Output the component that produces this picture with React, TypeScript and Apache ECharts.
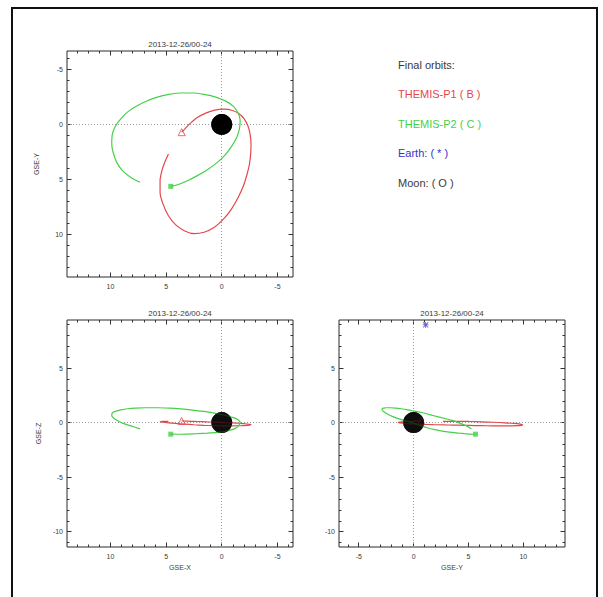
import React, { useEffect, useRef } from "react";
import * as echarts from "echarts";

// ---------- data ----------
const TITLE = "2013-12-26/00-24";
const majorTicks = [-10, -5, 0, 5, 10];
const majorLabels = ["-10", "-5", "0", "5", "10"];

// THEMIS-P1 ( B ) final orbit, GSE [Re]
const p1X = [3.6, 3.23, 2.78, 2.19, 1.44, 0.63, -0.21, -0.96, -1.56, -2.01, -2.34, -2.54, -2.63, -2.6, -2.49, -2.28, -1.95, -1.47, -0.87, -0.15, 0.69, 1.59, 2.49, 3.32, 4.13, 4.79, 5.27, 5.54, 5.54, 5.33, 5.03, 4.79];
const p1Y = [0.7, 0.3, -0.15, -0.64, -1.04, -1.31, -1.4, -1.28, -0.98, -0.52, 0.09, 0.85, 1.77, 2.68, 3.6, 4.51, 5.58, 6.65, 7.71, 8.63, 9.39, 9.82, 9.94, 9.7, 9.15, 8.32, 7.26, 6.19, 5.12, 4.05, 3.23, 2.68];
const p1Z = [0.15, 0.14, 0.12, 0.1, 0.07, 0.04, 0.0, -0.03, -0.06, -0.1, -0.13, -0.16, -0.19, -0.21, -0.23, -0.25, -0.27, -0.29, -0.3, -0.3, -0.28, -0.25, -0.2, -0.14, -0.08, -0.02, 0.03, 0.07, 0.1, 0.12, 0.12, 0.12];

// THEMIS-P2 ( C ) final orbit, GSE [Re]
const p2X = [7.34, 8.17, 8.92, 9.43, 9.76, 9.88, 9.82, 9.52, 9.07, 8.47, 7.72, 6.83, 5.78, 4.73, 3.68, 2.63, 1.59, 0.54, -0.36, -1.05, -1.47, -1.65, -1.59, -1.35, -0.93, -0.33, 0.39, 1.29, 2.19, 3.08, 3.98, 4.58];
const p2Y = [5.27, 4.82, 4.21, 3.45, 2.53, 1.77, 0.85, 0.09, -0.52, -1.13, -1.65, -2.1, -2.5, -2.74, -2.87, -2.87, -2.74, -2.5, -2.13, -1.65, -1.04, -0.37, 0.4, 1.16, 1.92, 2.74, 3.45, 4.12, 4.66, 5.12, 5.49, 5.64];
const p2Z = [-0.58, -0.3, -0.05, 0.22, 0.45, 0.65, 0.9, 1.05, 1.17, 1.27, 1.33, 1.36, 1.36, 1.32, 1.25, 1.15, 1.02, 0.85, 0.65, 0.45, 0.25, 0.05, -0.2, -0.45, -0.65, -0.8, -0.9, -0.97, -1.02, -1.05, -1.07, -1.06];

// Earth marker (*) seen in the Y-Z panel
const earthY = [1.1];
const earthZ = [8.95];

// body at origin
const originH = [0];
const originV = [0];

const legendTexts = ["Final orbits:", "THEMIS-P1 ( B )", "THEMIS-P2 ( C )", "Earth: ( * )", "Moon: ( O )"];

// ---------- styles ----------
const RED = "#e4474b";
const GREEN = "#46d048";
const BLUE = "#3434c8";
const INK = "#3a3a3a";
const FONT = "Liberation Sans, Arial, sans-serif";
const legendColors = [INK, RED, GREEN, BLUE, INK];

type Dim = "x" | "y" | "z";
const P1: Record<Dim, number[]> = { x: p1X, y: p1Y, z: p1Z };
const P2: Record<Dim, number[]> = { x: p2X, y: p2Y, z: p2Z };

const panels = [
  {
    grid: { left: 67, top: 51, width: 226, height: 226 },
    hAx: { min: -6.4, max: 13.9, inverse: true, name: "", gap: 16 },
    vAx: { min: -6.7, max: 13.9, inverse: true, name: "GSE-Y", gap: 27 },
    h: "x" as Dim,
    v: "y" as Dim,
  },
  {
    grid: { left: 67, top: 320, width: 226, height: 227 },
    hAx: { min: -6.4, max: 13.9, inverse: true, name: "GSE-X", gap: 17 },
    vAx: { min: -11.4, max: 9.4, inverse: false, name: "GSE-Z", gap: 25 },
    h: "x" as Dim,
    v: "z" as Dim,
  },
  {
    grid: { left: 339, top: 320, width: 226, height: 227 },
    hAx: { min: -6.8, max: 13.8, inverse: false, name: "GSE-Y", gap: 17 },
    vAx: { min: -11.4, max: 9.4, inverse: false, name: "", gap: 25 },
    h: "y" as Dim,
    v: "z" as Dim,
  },
];

function majorValues(min: number, max: number) {
  return majorTicks.filter((v) => v > min && v < max);
}
function minorValues(min: number, max: number) {
  const out: number[] = [];
  for (let v = Math.ceil(min); v <= Math.floor(max); v++) if (v % 5 !== 0) out.push(v);
  return out;
}
function labelOf(v: number) {
  const i = majorTicks.indexOf(v);
  return i >= 0 ? majorLabels[i] : String(v);
}

function axisSet(dim: "x" | "y", gi: number, ax: any) {
  const sides = dim === "x" ? ["bottom", "top"] : ["left", "right"];
  const res: any[] = [];
  sides.forEach((pos, si) => {
    [true, false].forEach((isMajor) => {
      const labelled = si === 0 && isMajor;
      res.push({
        type: "value",
        gridIndex: gi,
        position: pos,
        min: ax.min,
        max: ax.max,
        inverse: ax.inverse,
        name: labelled ? ax.name : "",
        nameLocation: "middle",
        nameGap: ax.gap,
        nameRotate: dim === "y" ? 90 : 0,
        nameTextStyle: { fontSize: 7, color: INK, fontFamily: FONT },
        axisLine: { show: false, onZero: false },
        splitLine: { show: false },
        axisTick: {
          show: true,
          inside: true,
          length: isMajor ? 4.5 : 2.5,
          customValues: isMajor ? majorValues(ax.min, ax.max) : minorValues(ax.min, ax.max),
          lineStyle: { color: "#333", width: 1 },
        },
        axisLabel: {
          show: labelled,
          customValues: majorValues(ax.min, ax.max),
          formatter: (v: number) => labelOf(v),
          fontSize: 7,
          color: INK,
          fontFamily: FONT,
          margin: dim === "x" ? 6 : 4,
        },
      });
    });
  });
  return res;
}

const asteriskPath =
  "path://M4.3,0h1.4v10h-1.4z M0,4.3h10v1.4h-10z M1.2,0.2l8.6,8.6l-1,1l-8.6,-8.6z M8.8,0.2l1,1l-8.6,8.6l-1,-1z";

function buildOption() {
  const grids: any[] = [];
  const xAxes: any[] = [];
  const yAxes: any[] = [];
  const series: any[] = [];
  const graphics: any[] = [];

  panels.forEach((p, gi) => {
    grids.push({ ...p.grid, show: true, borderColor: "#2a2a2a", borderWidth: 1, backgroundColor: "transparent" });
    const xi = xAxes.length;
    const yi = yAxes.length;
    xAxes.push(...axisSet("x", gi, p.hAx));
    yAxes.push(...axisSet("y", gi, p.vAx));

    const pair = (o: Record<Dim, number[]>) => o[p.h].map((v, i) => [v, o[p.v][i]]);
    const p1 = pair(P1);
    const p2 = pair(P2);
    const origin = originH.map((v, i) => [v, originV[i]]);

    // opaque body below the orbits
    series.push({
      type: "scatter",
      xAxisIndex: xi,
      yAxisIndex: yi,
      data: origin,
      symbol: "circle",
      symbolSize: 21,
      itemStyle: { color: "#000" },
      z: 1.5,
    });
    series.push({
      type: "line",
      name: "THEMIS-P1",
      xAxisIndex: xi,
      yAxisIndex: yi,
      data: p1,
      smooth: 0.25,
      showSymbol: false,
      lineStyle: { color: RED, width: 1.2 },
      z: 2,
      markLine: {
        silent: true,
        z: 1,
        symbol: ["none", "none"],
        label: { show: false },
        lineStyle: { color: "#9a9a9a", type: [1, 2], width: 1 },
        data: [{ xAxis: 0 }, { yAxis: 0 }],
      },
    });
    series.push({
      type: "line",
      name: "THEMIS-P2",
      xAxisIndex: xi,
      yAxisIndex: yi,
      data: p2,
      smooth: 0.25,
      showSymbol: false,
      lineStyle: { color: GREEN, width: 1.2 },
      z: 2,
    });
    series.push({
      type: "scatter",
      xAxisIndex: xi,
      yAxisIndex: yi,
      data: [p1[0]],
      symbol: "triangle",
      symbolSize: 7,
      itemStyle: { color: "rgba(255,255,255,0)", borderColor: RED, borderWidth: 1 },
      z: 3,
    });
    series.push({
      type: "scatter",
      xAxisIndex: xi,
      yAxisIndex: yi,
      data: [p2[p2.length - 1]],
      symbol: "rect",
      symbolSize: 5,
      itemStyle: { color: GREEN },
      z: 3,
    });
    // translucent body over the orbits (dims the crossing lines)
    series.push({
      type: "scatter",
      xAxisIndex: xi,
      yAxisIndex: yi,
      data: origin,
      symbol: "circle",
      symbolSize: 21,
      itemStyle: { color: "#000", opacity: gi === 0 ? 1 : 0.72 },
      z: 10,
    });
    if (p.h === "y" && p.v === "z") {
      series.push({
        type: "scatter",
        xAxisIndex: xi,
        yAxisIndex: yi,
        data: earthY.map((v, i) => [v, earthZ[i]]),
        symbol: asteriskPath,
        symbolSize: 6,
        itemStyle: { color: BLUE },
        z: 11,
      });
    }

    graphics.push({
      type: "text",
      x: p.grid.left + p.grid.width / 2,
      y: p.grid.top - 7,
      style: {
        text: TITLE,
        fill: INK,
        font: `8px ${FONT}`,
        textAlign: "center",
        textVerticalAlign: "middle",
      },
    });
  });

  legendTexts.forEach((t, i) => {
    graphics.push({
      type: "text",
      x: 398,
      y: 65 + i * 29.4,
      style: {
        text: t,
        fill: legendColors[i],
        font: `11px ${FONT}`,
        textAlign: "left",
        textVerticalAlign: "middle",
      },
    });
  });

  graphics.push({
    type: "rect",
    shape: { x: 12, y: 8, width: 585, height: 620 },
    style: { fill: "none", stroke: "#111", lineWidth: 2 },
    silent: true,
  });

  return {
    animation: false,
    backgroundColor: "#fff",
    grid: grids,
    xAxis: xAxes,
    yAxis: yAxes,
    series,
    graphic: graphics,
  };
}

export default function App() {
  const ref = useRef<HTMLDivElement>(null);
  useEffect(() => {
    if (!ref.current) return;
    const chart = echarts.init(ref.current, undefined, { renderer: "svg" });
    chart.setOption(buildOption() as any);
    return () => chart.dispose();
  }, []);
  return (
    <div
      ref={ref}
      style={{ position: "fixed", left: 0, top: 0, width: 603, height: 597, background: "#fff" }}
    />
  );
}
